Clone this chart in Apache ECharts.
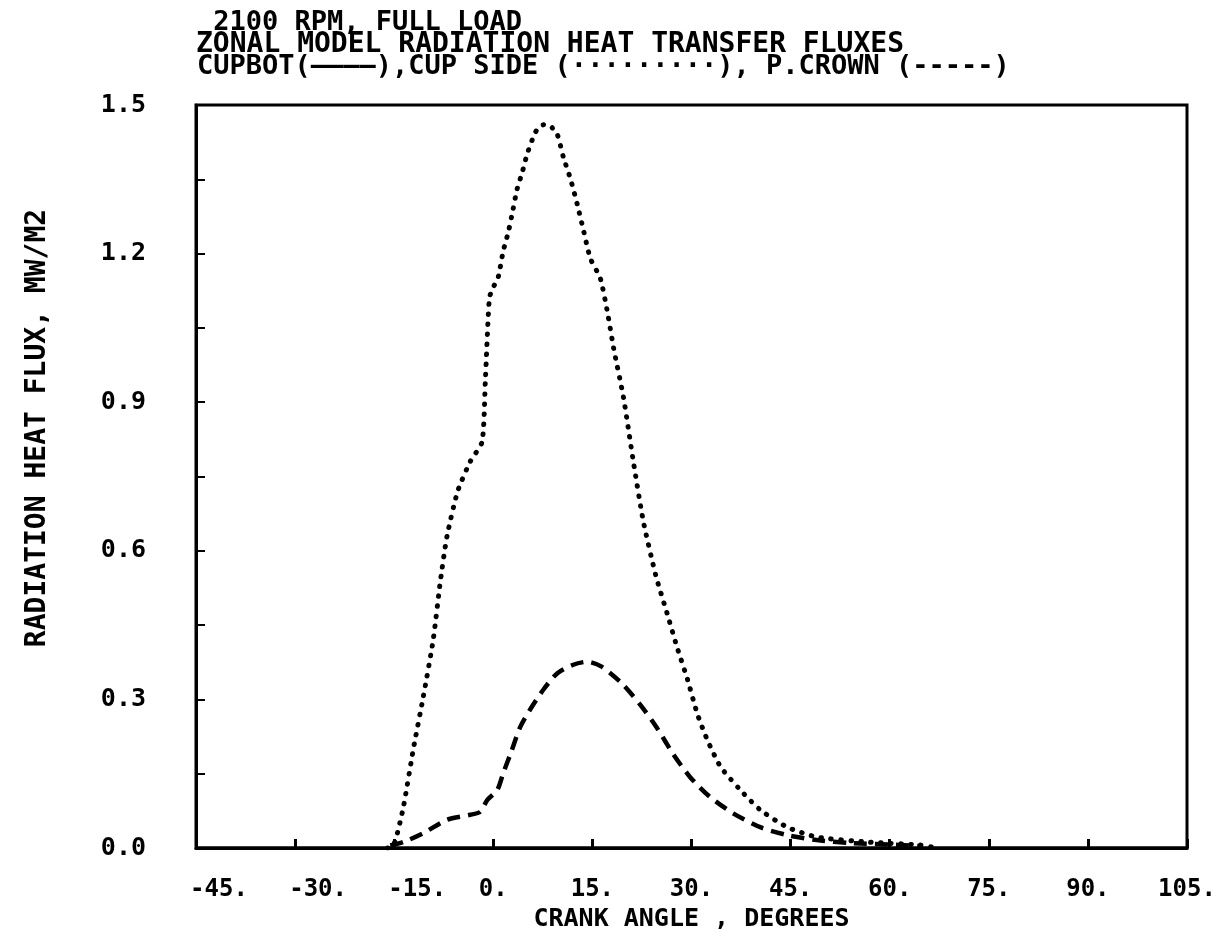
<!DOCTYPE html>
<html>
<head>
<meta charset="utf-8">
<script src="https://cdn.jsdelivr.net/npm/echarts@6/dist/echarts.min.js"></script>
<style>
  html, body { margin: 0; padding: 0; background: #fff; }
  #main { width: 1229px; height: 933px; }
</style>
</head>
<body>
<div id="main"></div>
<script>
// crank angle ticks
var xTicks = [-45, -30, -15, 0, 15, 30, 45, 60, 75, 90, 105];
var yTicks = [0, 0.3, 0.6, 0.9, 1.2, 1.5];

// CUPBOT - stays on the zero line
var cupbotAngle = [-45, 105];
var cupbotFlux = [0, 0];

// CUP SIDE (dotted)
var cupSideAngle = [-16, -15.5, -14.8, -13.6, -12.1, -10.6, -9.1, -8, -7, -5.4, -3.5, -1.7, -1.2, -0.6, -0.1, 0.7, 1.5, 2.3, 3.0, 3.6, 4.4, 5.1, 5.9, 6.6, 7.6, 8.6, 9.7, 10.6, 11.7, 12.7, 13.6, 14.7, 16.2, 17.3, 18.2, 19.7, 21.2, 22.7, 24.6, 26.3, 27.8, 29.4, 30.9, 32.4, 34.4, 37.4, 40.4, 44.5, 49, 56.6, 64.6, 67];
var cupSideFlux = [0, 0, 0.016, 0.083, 0.20, 0.305, 0.42, 0.54, 0.63, 0.72, 0.78, 0.82, 0.945, 1.11, 1.13, 1.15, 1.205, 1.245, 1.29, 1.33, 1.365, 1.40, 1.43, 1.45, 1.46, 1.458, 1.44, 1.395, 1.35, 1.30, 1.25, 1.19, 1.15, 1.08, 1.01, 0.91, 0.78, 0.66, 0.55, 0.474, 0.406, 0.34, 0.27, 0.218, 0.164, 0.117, 0.077, 0.042, 0.022, 0.012, 0.006, 0];

// P. CROWN (dashed)
var crownAngle = [-15.6, -13.6, -10.6, -7, -3.5, -2, -0.9, 0.6, 1.5, 2.6, 4.1, 5.6, 7.6, 9.7, 12.1, 14.2, 16.4, 19.4, 22.2, 24.8, 27.2, 29.8, 32.8, 36.3, 40.4, 44.5, 49, 54, 61.6, 65];
var crownFlux = [0.005, 0.012, 0.03, 0.057, 0.067, 0.073, 0.097, 0.117, 0.151, 0.19, 0.245, 0.28, 0.32, 0.353, 0.37, 0.376, 0.366, 0.333, 0.29, 0.242, 0.19, 0.143, 0.103, 0.07, 0.042, 0.026, 0.016, 0.01, 0.006, 0.003];

function pairs(a, b) {
    return a.map(function (v, i) { return [v, b[i]]; });
}

var font = '"DejaVu Sans Mono", monospace';

var myChart = echarts.init(document.getElementById('main'));
myChart.setOption({
    backgroundColor: '#fff',
    animation: false,
    grid: {
        left: 196, right: 42, top: 105, bottom: 85,
        outerBoundsMode: 'none', containLabel: false,
        show: true, borderColor: '#000', borderWidth: 3, backgroundColor: 'transparent'
    },
    graphic: [
        { type: 'text', left: 197, top: 9, style: { text: ' 2100 RPM, FULL LOAD', font: 'bold 27px ' + font, fill: '#000' } },
        { type: 'text', left: 196, top: 31, style: { text: 'ZONAL MODEL RADIATION HEAT TRANSFER FLUXES', font: 'bold 28px ' + font, fill: '#000' } },
        { type: 'text', left: 197, top: 53, style: { text: 'CUPBOT(————),CUP SIDE (·········), P.CROWN (-----)', font: 'bold 27px ' + font, fill: '#000' } },
        {
            type: 'text', x: 38, y: 428, rotation: Math.PI / 2,
            style: { text: 'RADIATION HEAT FLUX, MW/M2', font: 'bold 28px ' + font, fill: '#000', align: 'center', verticalAlign: 'middle' }
        }
    ],
    xAxis: {
        type: 'value', min: -45, max: 105, interval: 15,
        name: 'CRANK ANGLE , DEGREES', nameLocation: 'middle', nameGap: 54,
        nameTextStyle: { fontFamily: font, fontWeight: 'bold', fontSize: 25, color: '#000' },
        axisLine: { show: true, onZero: false, lineStyle: { color: '#000', width: 3 } },
        axisTick: { show: true, inside: true, length: 9, lineStyle: { color: '#000', width: 3 } },
        splitLine: { show: false },
        axisLabel: {
            margin: 30, color: '#000', fontFamily: font, fontWeight: 'bold', fontSize: 24,
            formatter: function (v) {
                return v < 0 ? '{n|' + v + '.}' : v + '.';
            },
            rich: { n: { fontFamily: font, fontWeight: 'bold', fontSize: 24, color: '#000', padding: [0, 0, 0, 46] } }
        }
    },
    yAxis: {
        type: 'value', min: 0, max: 1.5, interval: 0.3,
        axisLine: { show: true, onZero: false, lineStyle: { color: '#000', width: 3 } },
        axisTick: { show: true, inside: true, length: 9, lineStyle: { color: '#000', width: 2 } },
        minorTick: { show: true, splitNumber: 2, length: 9, lineStyle: { color: '#000', width: 2 } },
        splitLine: { show: false },
        axisLabel: {
            margin: 50, color: '#000', fontFamily: font, fontWeight: 'bold', fontSize: 25,
            formatter: function (v) { return v.toFixed(1); }
        }
    },
    series: [
        {
            name: 'CUPBOT', type: 'line', showSymbol: false,
            data: pairs(cupbotAngle, cupbotFlux),
            lineStyle: { color: '#000', width: 3 }
        },
        {
            name: 'CUP SIDE', type: 'line', showSymbol: false, smooth: 0.2,
            data: pairs(cupSideAngle, cupSideFlux),
            lineStyle: { color: '#000', width: 5, type: [0.5, 9.5], cap: 'round' }
        },
        {
            name: 'P. CROWN', type: 'line', showSymbol: false, smooth: 0.25,
            data: pairs(crownAngle, crownFlux),
            lineStyle: { color: '#000', width: 4.5, type: [13, 8], cap: 'butt' }
        }
    ]
});
window.onresize = function () {
    myChart.resize();
};
</script>
</body>
</html>
